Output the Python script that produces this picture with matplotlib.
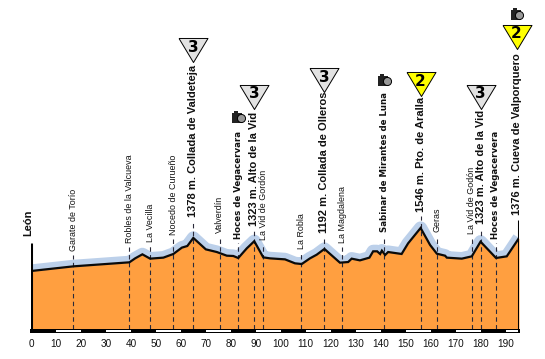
import matplotlib
matplotlib.use("Agg")
import matplotlib.pyplot as plt

# Route profile
km = [0, 17, 39.4, 41.7, 44.6, 47.7, 53, 57, 60.4, 62.6, 65, 70, 74.4, 78.4, 81, 83, 86.4, 89.4,
      93, 95.7, 101.7, 105.7, 108.4, 111.7, 114.4, 117.5, 121, 123.7, 127, 128.4, 131.7, 135.5,
      137, 138.6, 139.8, 140.5, 141.8, 143, 148.4, 151, 156, 159.8, 162.5, 165.8, 166.5, 172.5,
      176.5, 180, 186.2, 190.5, 195.4]
elev = [819, 898, 966, 1033, 1101, 1028, 1045, 1107, 1214, 1242, 1378, 1185, 1140, 1078, 1073, 1039,
        1202, 1323, 1050, 1033, 1016, 949, 937, 1033, 1095, 1192, 1061, 960, 971, 1028, 999, 1045,
        1152, 1152, 1107, 1163, 1090, 1140, 1107, 1287, 1546, 1259, 1112, 1078, 1045, 1028,
        1067, 1315, 1039, 1067, 1376]

place_km = [17, 39.4, 47.7, 57, 65, 75.5, 83, 89.4, 93, 108.3, 117.5, 124.6, 141.5, 156, 162.5,
            176.5, 180, 186, 195.4]
place_names = ["Garate de Torío", "Robles de la Valcueva", "La Vecilla", "Nocedo de Curueño",
               "1378 m. Collada de Valdeteja", "Valverdín", "Hoces de Vegacervara",
               "1323 m. Alto de la Vid", "La Vid de Gordón", "La Robla",
               "1192 m. Collada de Olleros", "La Magdalena", "Sabinar de Mirantes de Luna",
               "1546 m. Pto. de Aralla", "Geras", "La Vid de Godón", "1323 m. Alto de la Vid",
               "Hoces de Vegacervera", "1376 m. Cueva de Valporquero"]
place_style = ["n", "n", "n", "n", "c", "n", "h", "c", "n", "n", "c", "n", "h", "c", "n", "n", "c", "h", "c"]
place_base_px = [251, 243, 242, 235, 217, 233, 239, 226, 240, 249, 233, 243, 232, 212, 232, 234, 224, 239, 215]

climb_km = [65, 89.4, 117.5, 156, 180, 194.4]
climb_cat = ["3", "3", "3", "2", "3", "2"]
climb_top_px = [38, 85, 68, 72, 85, 25]
camera_km = [83, 141.5, 194.4]
camera_px = [117, 80, 14]

km_ticks = list(range(0, 200, 10))

W, H = 545, 359
X0, X1, Y0 = 31, 519, 329
PX_M = 16.9

def y_of(px):
    return 1546 - (px - 228) * PX_M

plt.rcParams['font.family'] = ['Liberation Sans', 'DejaVu Sans']
fig = plt.figure(figsize=(W / 100, H / 100), dpi=100, facecolor='white')
ax = fig.add_axes([X0 / W, 1 - Y0 / H, (X1 - X0) / W, Y0 / H])
ax.set_xlim(0, 195.4)
ax.set_ylim(y_of(Y0), y_of(0))
ax.patch.set_alpha(0)
for s in ax.spines.values():
    s.set_visible(False)
ax.set_yticks([])
ax.set_xticks(km_ticks)
ax.tick_params(axis='x', length=0, pad=7.5, labelsize=7.2, labelcolor='#111111')

base = y_of(Y0)
ax.plot(km, elev, color='#bcd0ea', lw=9.5, solid_joinstyle='round', solid_capstyle='butt', zorder=1)
ax.fill_between(km, base - 5, elev, color='#ff9f40', lw=0, zorder=2)
ax.plot(km, elev, color='#0a0a0a', lw=1.6, solid_joinstyle='miter', zorder=4)

ax.vlines([0], base, y_of(243), color='black', lw=2.2, zorder=5)
ax.vlines([195.4], base, y_of(220), color='black', lw=2.2, zorder=5)

# scale bar: black strip with thin white segments
ax.broken_barh([(-0.5, 196.4)], (y_of(333), y_of(328.5) - y_of(333)),
               facecolor='black', lw=0, clip_on=False, zorder=6)
for t in km_ticks[1::2]:
    ax.broken_barh([(t, min(10, 195 - t))], (y_of(332), y_of(330) - y_of(332)),
                   facecolor='white', lw=0, clip_on=False, zorder=7)

styles = {
    'n': dict(fontsize=6.4, fontweight='normal', color='#111111', family=['Liberation Sans']),
    'c': dict(fontsize=8, fontweight='bold', color='#111111', family=['Liberation Sans']),
    'h': dict(fontsize=6.2, fontweight='bold', color='#111111', family=['DejaVu Sans']),
}
for k, name, st, bp in zip(place_km, place_names, place_style, place_base_px):
    xtext = k if k < 195 else 194.4
    ax.text(xtext, y_of(bp), name, rotation=90, ha='center', va='bottom', zorder=7, **styles[st])
    if k < 195:
        ax.vlines(k, base, y_of(bp + 4), color='#2a2a3a', lw=0.8,
                  linestyles=(0, (4, 3)), zorder=3)

ax.text(-1.2, y_of(236), "León", rotation=90, ha='center', va='bottom', fontsize=8,
        fontweight='bold', color='#111111', zorder=7)

# climb category triangles
tri = [(-1, 0.83), (1, 0.83), (0, -0.83), (-1, 0.83)]
for k, cat, tp in zip(climb_km, climb_cat, climb_top_px):
    col = '#ffff00' if cat == '2' else '#e2e2e2'
    ax.scatter([k], [y_of(tp + 12)], marker=tri, s=436, facecolor=col, edgecolor='black', lw=0.7,
               zorder=8, clip_on=False)
    ax.text(k, y_of(tp + 9), cat, ha='center', va='center', fontsize=11, fontweight='bold',
            family=['DejaVu Sans'], color='black', zorder=9)

# camera icons
for k, p in zip(camera_km, camera_px):
    ax.scatter([k - 0.4], [y_of(p + 0.5)], marker='s', s=62, color='#222222', lw=0, zorder=8, clip_on=False)
    ax.scatter([k + 1.2], [y_of(p + 1)], marker='o', s=34, color='#999999', edgecolor='black', lw=0.7,
               zorder=9, clip_on=False)
    ax.scatter([k - 0.8], [y_of(p - 4.5)], marker='s', s=10, color='#222222', lw=0, zorder=8, clip_on=False)

fig.savefig('out.png', dpi=100, facecolor='white')
